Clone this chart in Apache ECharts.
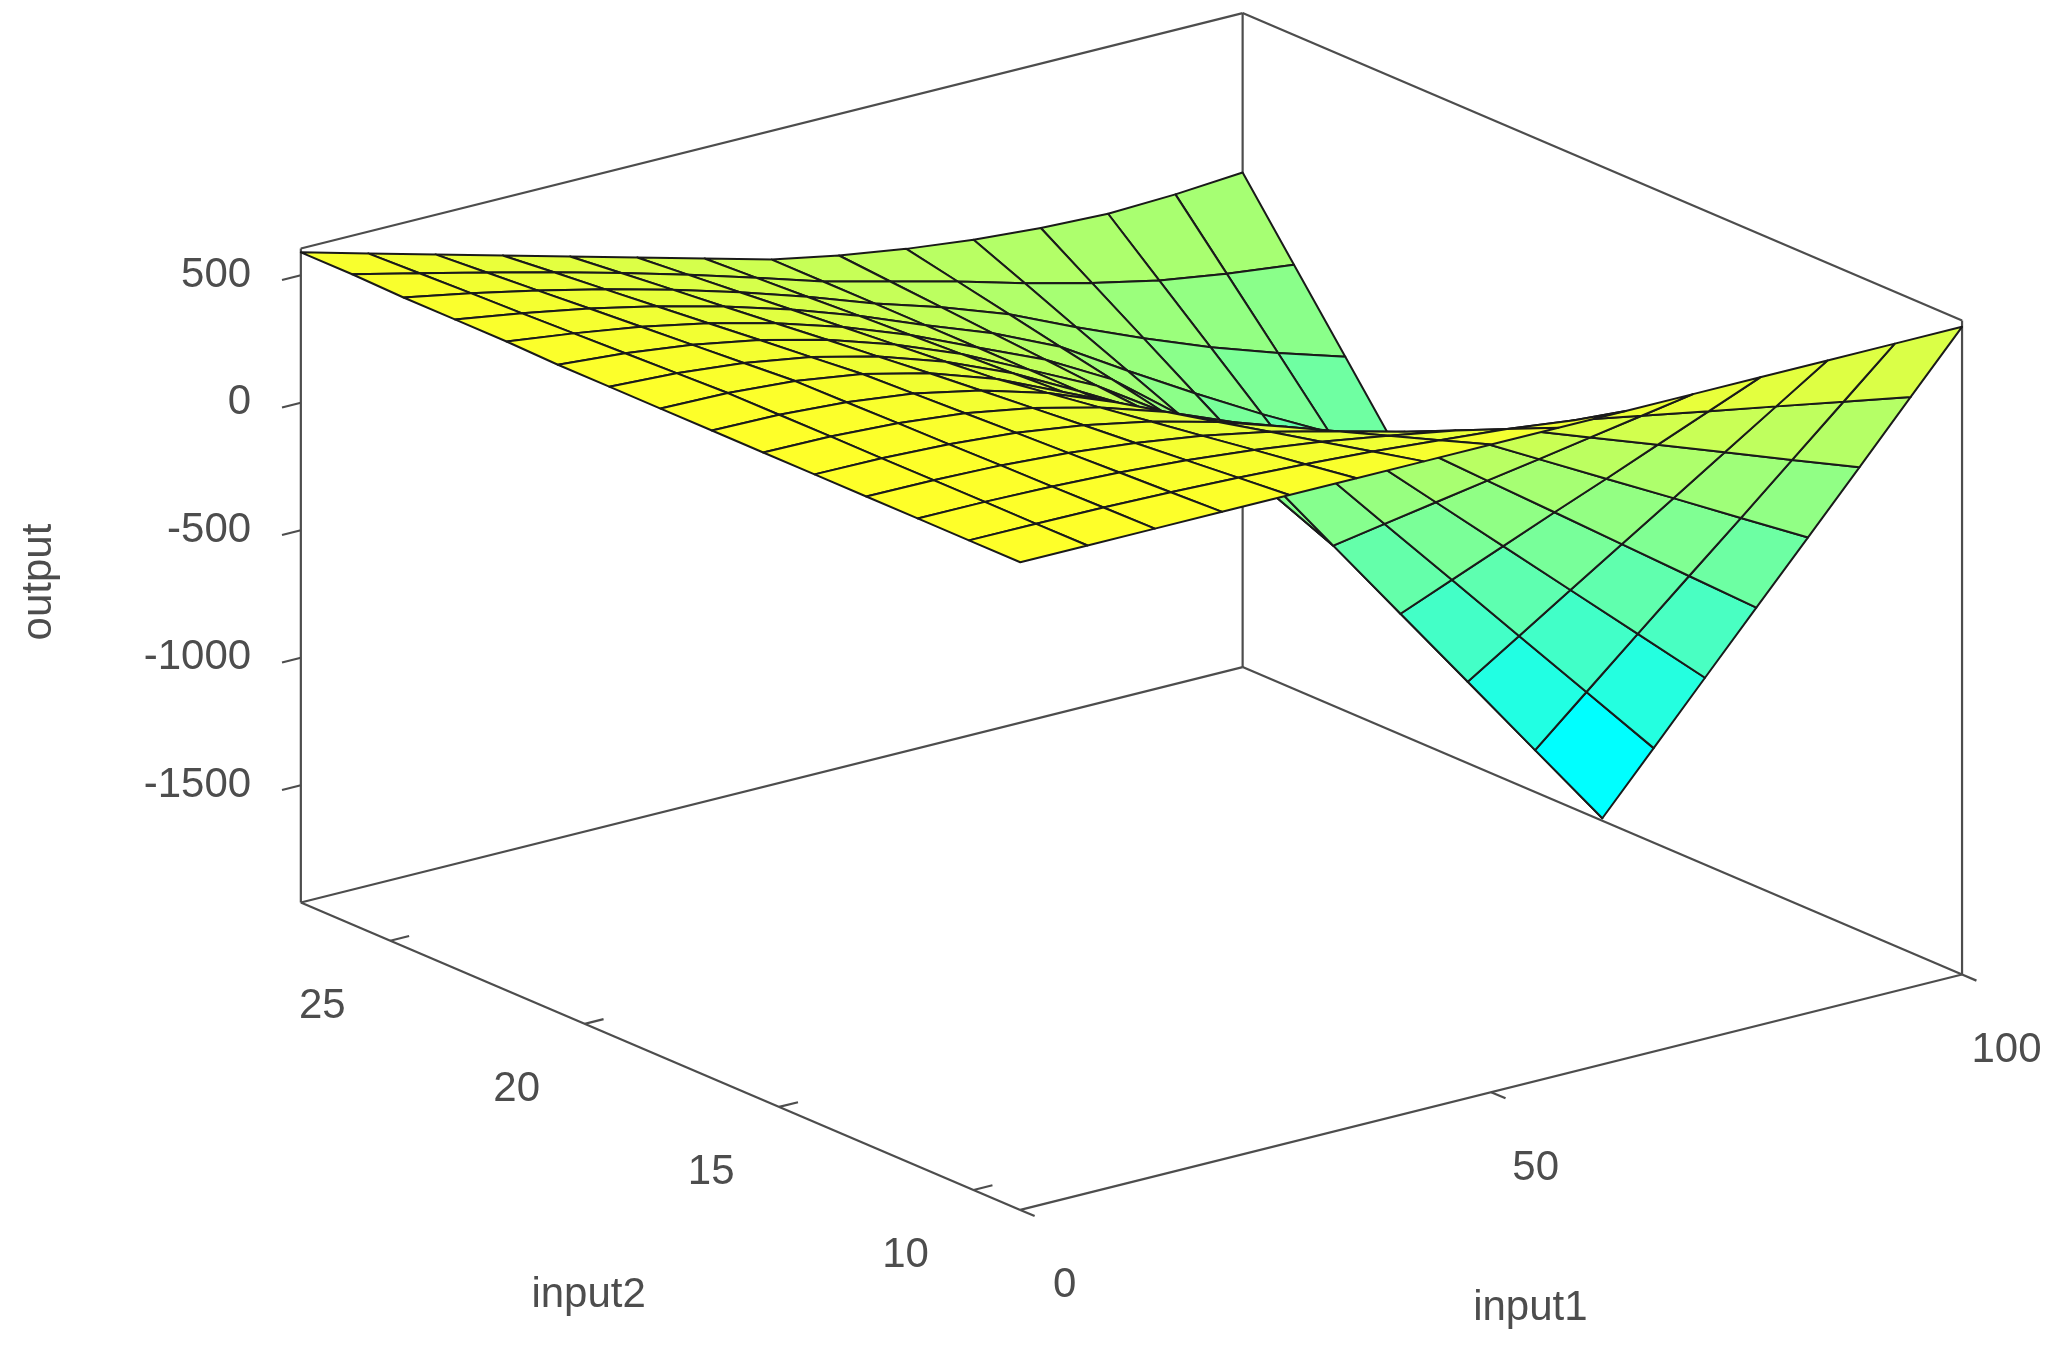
<!DOCTYPE html>
<html>
<head>
<meta charset="utf-8">
<script src="https://cdn.jsdelivr.net/npm/echarts@6/dist/echarts.min.js"></script>
<style>html,body{margin:0;padding:0;background:#fff}#main{width:2051px;height:1361px}</style>
</head>
<body>
<div id="main"></div>
<script>
// axis ranges and ticks
var input1Range = [0, 100];
var input2Range = [8.8, 27.3];
var outputRange = [-1960, 605];
var input1Ticks = [0, 50, 100];
var input2Ticks = [10, 15, 20, 25];
var outputTicks = [-1500, -1000, -500, 0, 500];

// surface grid (rows: input1, cols: input2)
var input1Grid = [0, 7.14, 14.29, 21.43, 28.57, 35.71, 42.86, 50, 57.14, 64.29, 71.43, 78.57, 85.71, 92.86, 100];
var input2Grid = [8.8, 10.12, 11.44, 12.76, 14.09, 15.41, 16.73, 18.05, 19.37, 20.69, 22.01, 23.34, 24.66, 25.98, 27.3];
var output = [
    [580, 580, 580, 580, 580, 580, 580, 580, 580, 580, 585, 585, 585, 590, 590],
    [580, 579, 579, 578, 577, 577, 576, 575, 567, 559, 551, 543, 536, 528, 520],
    [580, 577, 573, 570, 566, 563, 559, 556, 541, 526, 511, 496, 480, 465, 450],
    [580, 571, 562, 553, 545, 536, 527, 518, 498, 479, 459, 439, 419, 400, 380],
    [580, 562, 544, 526, 509, 491, 473, 455, 434, 414, 393, 372, 352, 331, 310],
    [580, 549, 519, 488, 458, 427, 397, 366, 348, 330, 312, 294, 276, 258, 240],
    [580, 533, 485, 438, 390, 343, 295, 248, 237, 226, 215, 204, 192, 181, 170],
    [580, 511, 443, 374, 305, 237, 168, 99, 99, 99, 100, 100, 100, 100, 100],
    [580, 489, 397, 306, 214, 123, 31, -60, -44, -29, -13, 3, 19, 34, 50],
    [580, 457, 333, 210, 87, -37, -160, -283, -241, -199, -157, -116, -74, -32, 10],
    [580, 409, 238, 67, -104, -275, -446, -617, -532, -446, -361, -276, -191, -105, -20],
    [580, 361, 143, -76, -294, -513, -731, -950, -820, -690, -560, -430, -300, -170, -40],
    [580, 314, 48, -218, -485, -751, -1017, -1283, -1107, -931, -755, -578, -402, -226, -50],
    [580, 266, -48, -362, -676, -989, -1303, -1617, -1392, -1166, -941, -716, -490, -265, -40],
    [580, 219, -143, -504, -866, -1227, -1589, -1950, -1674, -1399, -1123, -847, -571, -296, -20]
];

var W = 1568, H = 1040.5; // projection plane units
function norm(x1, x2, z) {
    return [(x1 - input1Range[0]) / (input1Range[1] - input1Range[0]),
            (x2 - input2Range[0]) / (input2Range[1] - input2Range[0]),
            (z - outputRange[0]) / (outputRange[1] - outputRange[0])];
}
function proj(x1, x2, z) {
    var n = norm(x1, x2, z);
    return [780 + 720 * n[0] - 550 * n[1], 925 - 180 * n[0] - 235 * n[1] - 500 * n[2]];
}
function depth(x1, x2, z) {
    var n = norm(x1, x2, z);
    return 1.732 * (180 * n[0] + 235 * n[1]) - 0.577 * 500 * n[2];
}

var zMin = Infinity, zMax = -Infinity;
output.forEach(function (r) { r.forEach(function (v) { zMin = Math.min(zMin, v); zMax = Math.max(zMax, v); }); });

var faces = [];
for (var i = 0; i < input1Grid.length - 1; i++) {
    for (var j = 0; j < input2Grid.length - 1; j++) {
        var c = [[i, j], [i + 1, j], [i + 1, j + 1], [i, j + 1]];
        var pts = [], d = 0, zLow = Infinity;
        c.forEach(function (k) {
            var z = output[k[0]][k[1]];
            pts.push(proj(input1Grid[k[0]], input2Grid[k[1]], z));
            d += depth(input1Grid[k[0]], input2Grid[k[1]], z);
            zLow = Math.min(zLow, z);
        });
        var f = (zLow - zMin) / (zMax - zMin);
        faces.push({ pts: pts, d: d / 4, color: 'rgb(' + Math.round(255 * f) + ',255,' + Math.round(255 - 215 * f) + ')' });
    }
}
faces.sort(function (p, q) { return q.d - p.d; });

// box edges
var r1 = input1Range, r2 = input2Range, r3 = outputRange;
var boxLines = [
    [[r1[0], r2[1], r3[0]], [r1[0], r2[1], r3[1]]],
    [[r1[1], r2[1], r3[0]], [r1[1], r2[1], r3[1]]],
    [[r1[1], r2[0], r3[0]], [r1[1], r2[0], r3[1]]],
    [[r1[0], r2[1], r3[1]], [r1[1], r2[1], r3[1]]],
    [[r1[1], r2[1], r3[1]], [r1[1], r2[0], r3[1]]],
    [[r1[0], r2[1], r3[0]], [r1[1], r2[1], r3[0]]],
    [[r1[1], r2[1], r3[0]], [r1[1], r2[0], r3[0]]],
    [[r1[0], r2[1], r3[0]], [r1[0], r2[0], r3[0]]],
    [[r1[0], r2[0], r3[0]], [r1[1], r2[0], r3[0]]]
];
var labels = [];
input1Ticks.forEach(function (t) {
    boxLines.push([[t, r2[0], r3[0]], [t, r2[0] - 0.02 * (r2[1] - r2[0]), r3[0]]]);
    var p = proj(t, r2[0], r3[0]);
    labels.push({ text: String(t), x: p[0] + 34, y: p[1] + 58, align: 'center' });
});
input2Ticks.forEach(function (t) {
    boxLines.push([[r1[0], t, r3[0]], [r1[0] + 0.02 * (r1[1] - r1[0]), t, r3[0]]]);
    var p = proj(r1[0], t, r3[0]);
    labels.push({ text: String(t), x: p[0] - 52, y: p[1] + 50, align: 'center' });
});
outputTicks.forEach(function (t) {
    boxLines.push([[r1[0], r2[1], t], [r1[0] - 0.02 * (r1[1] - r1[0]), r2[1], t]]);
    var p = proj(r1[0], r2[1], t);
    labels.push({ text: String(t), x: p[0] - 38, y: p[1], align: 'right' });
});
var fp = proj(r1[0], r2[0], r3[0]);
labels.push({ text: 'input2', x: fp[0] - 330, y: fp[1] + 65, align: 'center' });
labels.push({ text: 'input1', x: fp[0] + 390, y: fp[1] + 75, align: 'center' });
var lp = proj(r1[0], r2[1], (r3[0] + r3[1]) / 2);
labels.push({ text: 'output', x: lp[0] - 200, y: lp[1] + 5, align: 'center', rotate: true });

var myChart = echarts.init(document.getElementById('main'));
var option = {
    animation: false,
    grid: { left: 0, right: 0, top: 0, bottom: 0 },
    xAxis: { type: 'value', min: 0, max: W, show: false },
    yAxis: { type: 'value', min: 0, max: H, inverse: true, show: false },
    series: [
        {
            type: 'custom', silent: true, clip: false,
            data: boxLines.map(function (l, k) { return [k]; }),
            renderItem: function (params, api) {
                var l = boxLines[params.dataIndex];
                var a = api.coord(proj(l[0][0], l[0][1], l[0][2]));
                var b = api.coord(proj(l[1][0], l[1][1], l[1][2]));
                return { type: 'line', shape: { x1: a[0], y1: a[1], x2: b[0], y2: b[1] },
                    style: { stroke: '#4d4d4d', lineWidth: 2.2 } };
            }
        },
        {
            type: 'custom', silent: true, clip: false,
            data: faces.map(function (f, k) { return [k]; }),
            renderItem: function (params, api) {
                var f = faces[params.dataIndex];
                return { type: 'polygon', shape: { points: f.pts.map(function (p) { return api.coord(p); }) },
                    style: { fill: f.color, stroke: '#1a1a1a', lineWidth: 2, lineJoin: 'round' } };
            }
        },
        {
            type: 'custom', silent: true, clip: false,
            data: labels.map(function (l, k) { return [k]; }),
            renderItem: function (params, api) {
                var l = labels[params.dataIndex];
                var p = api.coord([l.x, l.y]);
                return { type: 'text', x: p[0], y: p[1], rotation: l.rotate ? Math.PI / 2 : 0,
                    style: { text: l.text, fill: '#4d4d4d', font: '42px "Liberation Sans", Arial, sans-serif',
                        align: l.align, verticalAlign: 'middle' } };
            }
        }
    ]
};
myChart.setOption(option);
</script>
</body>
</html>
